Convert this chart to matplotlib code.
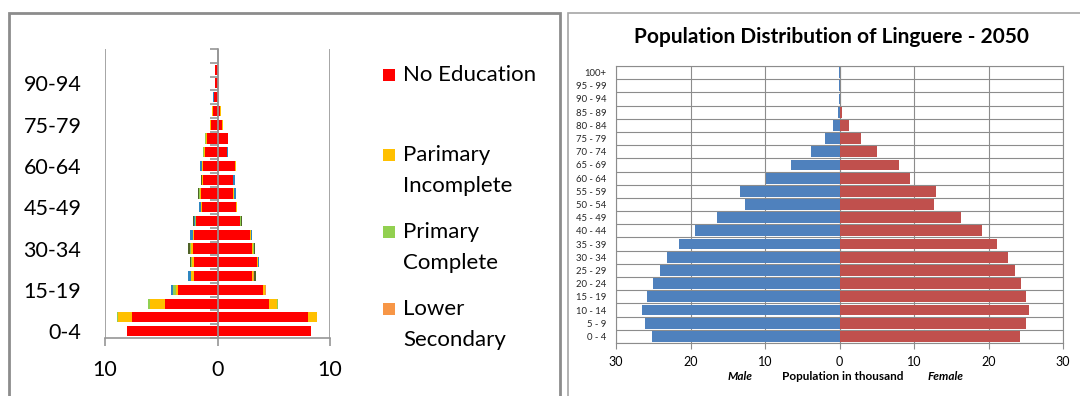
import numpy as np
import matplotlib
matplotlib.use('Agg')
import matplotlib.pyplot as plt
from matplotlib.patches import Rectangle

plt.rcParams['font.family'] = ['Lato', 'DejaVu Sans']

# age groups, bottom to top
ages = ['0-4', '5-9', '10-14', '15-19', '20-24', '25-29', '30-34', '35-39', '40-44',
        '45-49', '50-54', '55-59', '60-64', '65-69', '70-74', '75-79', '80-84',
        '85-89', '90-94', '95-99', '100+']

# left chart: education level by sex
edu_names = ['No Education', 'Parimary\nIncomplete', 'Primary\nComplete',
             'Lower\nSecondary', 'Upper Secondary', 'Higher']
edu_colors = ['#FF0000', '#FFC000', '#92D050', '#F79646', '#2E86C1', '#4F6228']

male_no_edu = [8.08, 7.57, 4.65, 3.50, 2.13, 2.10, 2.22, 2.13, 1.90, 1.39, 1.51,
               1.33, 1.30, 1.13, 0.95, 0.56, 0.39, 0.27, 0.18, 0.18, 0.0]
male_prim_inc = [0.0, 1.28, 1.37, 0.15, 0.20, 0.15, 0.12, 0.05, 0.05, 0.08, 0.09,
                 0.03, 0.09, 0.09, 0.03, 0.09, 0.06, 0.0, 0.0, 0.0, 0.0]
male_prim_comp = [0.0, 0.10, 0.18, 0.30, 0.0, 0.15, 0.12, 0.0, 0.05, 0.0, 0.05,
                  0.05, 0.0, 0.05, 0.15, 0.0, 0.0, 0.0, 0.0, 0.0, 0.0]
male_lower_sec = [0.0, 0.0, 0.0, 0.05, 0.03, 0.0, 0.0, 0.0, 0.0, 0.0, 0.0,
                  0.0, 0.0, 0.0, 0.0, 0.0, 0.0, 0.0, 0.0, 0.0, 0.0]
male_upper_sec = [0.0, 0.0, 0.0, 0.15, 0.22, 0.0, 0.0, 0.25, 0.10, 0.16, 0.0,
                  0.0, 0.15, 0.0, 0.0, 0.0, 0.0, 0.10, 0.0, 0.0, 0.0]
male_higher = [0.0, 0.0, 0.0, 0.0, 0.0, 0.08, 0.12, 0.0, 0.10, 0.0, 0.07,
               0.06, 0.0, 0.06, 0.0, 0.0, 0.0, 0.0, 0.0, 0.0, 0.0]

female_no_edu = [8.31, 8.03, 4.56, 4.03, 3.08, 3.53, 3.08, 2.90, 1.96, 1.63, 1.42,
                 1.42, 1.54, 0.83, 0.92, 0.39, 0.24, 0.0, 0.0, 0.0, 0.0]
female_prim_inc = [0.0, 0.77, 0.77, 0.18, 0.10, 0.08, 0.06, 0.04, 0.05, 0.09, 0.09,
                   0.0, 0.12, 0.0, 0.02, 0.06, 0.09, 0.0, 0.0, 0.0, 0.0]
female_prim_comp = [0.0, 0.06, 0.09, 0.0, 0.0, 0.0, 0.10, 0.0, 0.05, 0.0, 0.0,
                    0.0, 0.0, 0.0, 0.0, 0.0, 0.0, 0.0, 0.0, 0.0, 0.0]
female_lower_sec = [0.0, 0.0, 0.0, 0.09, 0.08, 0.0, 0.0, 0.0, 0.0, 0.0, 0.0,
                    0.0, 0.0, 0.0, 0.0, 0.0, 0.0, 0.0, 0.0, 0.0, 0.0]
female_upper_sec = [0.0, 0.0, 0.0, 0.0, 0.0, 0.12, 0.0, 0.14, 0.0, 0.0, 0.12,
                    0.12, 0.0, 0.06, 0.0, 0.0, 0.0, 0.0, 0.0, 0.0, 0.0]
female_higher = [0.0, 0.0, 0.0, 0.0, 0.12, 0.0, 0.08, 0.0, 0.10, 0.0, 0.0,
                 0.0, 0.0, 0.0, 0.0, 0.0, 0.0, 0.0, 0.0, 0.0, 0.0]

male_edu = [male_no_edu, male_prim_inc, male_prim_comp, male_lower_sec, male_upper_sec, male_higher]
female_edu = [female_no_edu, female_prim_inc, female_prim_comp, female_lower_sec, female_upper_sec, female_higher]

# right chart: Linguere 2050, thousands
male_2050 = [25.2, 26.1, 26.45, 25.9, 25.1, 24.05, 23.15, 21.5, 19.45, 16.5, 12.65,
             13.3, 9.8, 6.5, 3.8, 1.9, 0.85, 0.2, 0.05, 0.05, 0.05]
female_2050 = [24.25, 25.1, 25.5, 25.1, 24.35, 23.5, 22.65, 21.15, 19.1, 16.3, 12.7,
               13.0, 9.5, 8.0, 5.0, 2.95, 1.3, 0.27, 0.13, 0.13, 0.13]

W, H = 1080, 396
fig = plt.figure(figsize=(W / 100, H / 100), dpi=100)

# panel frames (cropped screenshots of two charts)
fig.add_artist(Rectangle((9 / W, -0.2), (560 - 9) / W, 1.2 - 13 / H,
                         transform=fig.transFigure, fill=False, ec='#8c8c8c', lw=2))
fig.add_artist(Rectangle((568 / W, -0.2), 0.6, 1.2 - 13 / H,
                         transform=fig.transFigure, fill=False, ec='#a6a6a6', lw=1.2))

y = np.arange(len(ages))
grey = '#969696'

# ---- left chart ----
ax = fig.add_axes([105 / W, 1 - 338 / H, 225 / W, (338 - 49) / H])
cum_m = np.zeros(len(ages))
cum_f = np.zeros(len(ages))
for vals_m, vals_f, c in zip(male_edu, female_edu, edu_colors):
    vm = np.array(vals_m)
    vf = np.array(vals_f)
    ax.barh(y, -vm, left=-cum_m, height=0.74, color=c, lw=0)
    ax.barh(y, vf, left=cum_f, height=0.74, color=c, lw=0)
    cum_m += vm
    cum_f += vf

ax.set_xlim(-10, 10)
ax.set_ylim(-0.5, len(ages) - 0.5)
ax.set_xticks([-10, 0, 10])
ax.set_xticklabels(['10', '0', '10'])
ax.grid(axis='x', color=grey, lw=1.2)
ax.set_axisbelow(True)
for s in ['top', 'right']:
    ax.spines[s].set_visible(False)
ax.spines['left'].set_position(('data', 0))
ax.spines['left'].set_color(grey)
ax.spines['left'].set_linewidth(1.2)
ax.spines['bottom'].set_color(grey)
ax.spines['bottom'].set_linewidth(1.2)
ax.set_yticks(y[::3])
ax.set_yticklabels(ages[::3])
ax.set_yticks(np.arange(len(ages) + 1) - 0.5, minor=True)
ax.tick_params(axis='y', which='major', length=0, pad=98, labelsize=15.5)
ax.tick_params(axis='y', which='minor', length=6, width=1.2, color=grey, direction='out')
ax.tick_params(axis='x', length=6, width=1.2, color=grey, pad=10, labelsize=15.5)

# legend (only the first four entries are visible in the cropped original)
leg_y = [75, 155, 232, 309]
for name, c, ly in zip(edu_names[:4], edu_colors[:4], leg_y):
    fig.add_artist(Rectangle((383 / W, 1 - (ly + 6) / H), 12 / W, 12 / H,
                             transform=fig.transFigure, color=c, lw=0))
    for k, line in enumerate(name.split('\n')):
        fig.text(403 / W, 1 - (ly + 31 * k) / H, line, fontsize=16, va='center', ha='left')

# ---- right chart ----
ax2 = fig.add_axes([616 / W, 1 - 343 / H, (1063 - 616) / W, (343 - 66) / H])
ax2.barh(y, -np.array(male_2050), height=0.82, color='#4F81BD', lw=0, zorder=3)
ax2.barh(y, female_2050, height=0.82, color='#C0504D', lw=0, zorder=3)
ax2.set_xlim(-30, 30)
ax2.set_ylim(-0.5, len(ages) - 0.5)
ax2.set_xticks(np.arange(-30, 31, 10))
ax2.set_xticklabels([str(abs(v)) for v in range(-30, 31, 10)])
ax2.set_yticks(y)
ax2.set_yticklabels([a.replace('-', ' - ') for a in ages])
ax2.set_yticks(np.arange(len(ages) + 1) - 0.5, minor=True)
ax2.grid(axis='x', color='#8c8c8c', lw=0.8, zorder=0)
ax2.grid(axis='y', which='minor', color='#8c8c8c', lw=0.8, zorder=0)
ax2.axvline(0, color='#8c8c8c', lw=0.8, zorder=2)
ax2.tick_params(axis='y', which='both', length=0, pad=7, labelsize=6.8, labelcolor='#262626')
ax2.tick_params(axis='x', length=4, color='#8c8c8c', pad=5, labelsize=9)
for s in ax2.spines.values():
    s.set_color('#8c8c8c')
    s.set_linewidth(0.8)

fig.text(831 / W, 1 - 37 / H, 'Population Distribution of Linguere - 2050',
         ha='center', va='center', fontsize=15, fontweight='bold')
fig.text(740 / W, 1 - 377 / H, 'Male', ha='center', va='center', fontsize=8.5,
         fontweight='bold', style='italic')
fig.text(843 / W, 1 - 377 / H, 'Population in thousand', ha='center', va='center',
         fontsize=8.5, fontweight='bold')
fig.text(946 / W, 1 - 377 / H, 'Female', ha='center', va='center', fontsize=8.5,
         fontweight='bold', style='italic')

fig.savefig('out.png', dpi=100)
